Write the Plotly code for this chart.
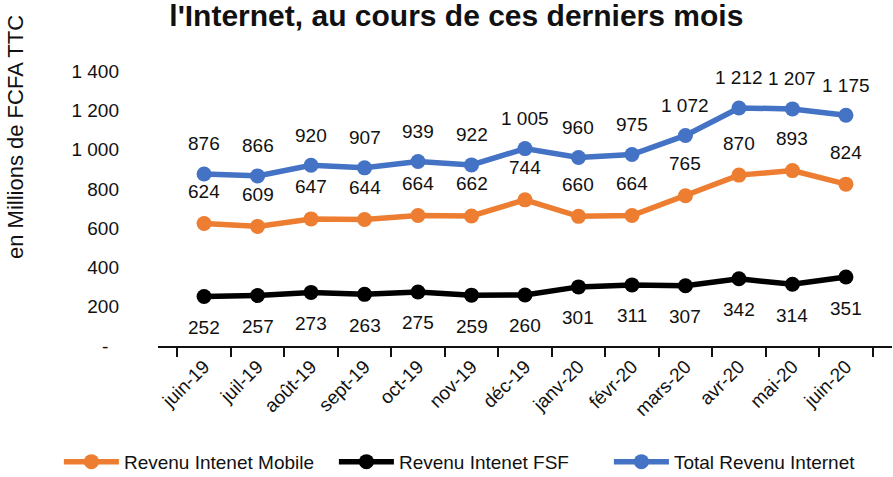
import plotly.graph_objects as go

# Data
months = ["juin-19", "juil-19", "août-19", "sept-19", "oct-19", "nov-19", "déc-19",
          "janv-20", "févr-20", "mars-20", "avr-20", "mai-20", "juin-20"]
mobile = [624, 609, 647, 644, 664, 662, 744, 660, 664, 765, 870, 893, 824]
fsf = [252, 257, 273, 263, 275, 259, 260, 301, 311, 307, 342, 314, 351]
total = [876, 866, 920, 907, 939, 922, 1005, 960, 975, 1072, 1212, 1207, 1175]

y_ticks = [0, 200, 400, 600, 800, 1000, 1200, 1400]
y_tick_text = ["-\u00a0\u00a0", "200", "400", "600", "800", "1 000", "1 200", "1 400"]


def fmt(v):
    # French style thousands separator
    return f"{v:,}".replace(",", " ")


FONT = "Liberation Sans, Arial, sans-serif"
TXT = "#111111"

fig = go.Figure()

# name, values, colour, label offset in px (positive = above)
series = [
    ("Revenu Intenet Mobile", mobile, "#ED7D31", 32),
    ("Revenu Intenet FSF", fsf, "#000000", -31),
    ("Total Revenu Internet", total, "#4472C4", 30),
]

for name, vals, color, shift in series:
    fig.add_trace(go.Scatter(
        x=months, y=vals, name=name,
        mode="lines+markers",
        line=dict(color=color, width=5.5),
        marker=dict(color=color, size=15),
        cliponaxis=False,
    ))
    for m, v in zip(months, vals):
        fig.add_annotation(
            x=m, y=v, text=fmt(v), showarrow=False,
            yshift=shift, xanchor="center", yanchor="middle",
            font=dict(size=19, color=TXT, family=FONT),
        )

fig.update_layout(
    width=893, height=477,
    paper_bgcolor="white",
    plot_bgcolor="rgba(0,0,0,0)",
    margin=dict(l=158, r=1, t=71, b=131, autoexpand=False),
    font=dict(family=FONT, color=TXT),
    title=dict(
        text="<b>l'Internet, au cours de ces derniers mois</b>",
        xref="container", yref="container",
        x=0.511, xanchor="center", y=0.99, yanchor="top",
        pad=dict(t=0, b=0),
        font=dict(size=30, color=TXT, family=FONT),
    ),
    showlegend=True,
    legend=dict(
        # paper coords below/left of the plot so the row may use the full width
        orientation="h", x=-0.135, xanchor="left",
        y=-0.352, yanchor="top",
        font=dict(size=19, family=FONT, color=TXT),
        traceorder="normal", tracegroupgap=0,
        itemwidth=55, entrywidth=205,
    ),
)

fig.update_xaxes(
    type="category", automargin=False,
    showgrid=False,
    showline=True, linecolor=TXT, linewidth=2,
    ticks="outside", tickson="boundaries", ticklen=9, tickwidth=2, tickcolor=TXT,
    tickangle=-45, tickfont=dict(size=19, family=FONT, color=TXT),
)

fig.update_yaxes(
    range=[0, 1400], automargin=False,
    tickvals=y_ticks, ticktext=y_tick_text,
    showgrid=False, zeroline=False, showline=False,
    ticks="", ticklabelstandoff=38,
    tickfont=dict(size=19, family=FONT, color=TXT),
)

fig.add_annotation(
    text="en Millions de FCFA TTC", textangle=-90,
    xref="paper", yref="paper", x=18 / 893 - 158 / 735, y=(346 - 137) / 275,
    xanchor="center", yanchor="middle", showarrow=False,
    font=dict(size=22, family=FONT, color=TXT),
)

# drop the browser's default body margin so the figure sits at the page origin
fig.write_html("out.html", config={"displayModeBar": False},
               post_script="document.body.style.margin='0';")
